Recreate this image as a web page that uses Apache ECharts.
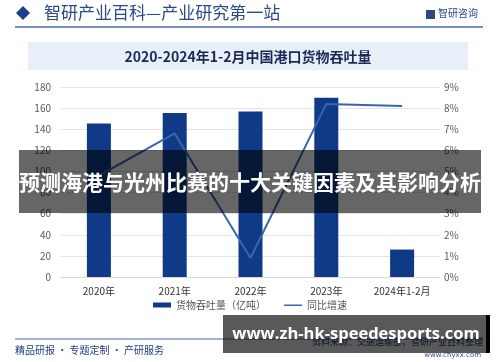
<!DOCTYPE html>
<html><head><meta charset="utf-8">
<script src="https://cdn.jsdelivr.net/npm/echarts@6/dist/echarts.min.js"></script>
<style>html,body{margin:0;padding:0;background:#fff}#c{width:500px;height:362px}</style>
</head><body><div id="c"></div>
<script>
var categories = ['2020年', '2021年', '2022年', '2023年', '2024年1-2月'];
var throughput = [145.5, 155.45, 156.85, 169.73, 26.0];
var growth = [4.8, 6.8, 0.9, 8.2, 8.1];
var leftTicks = {min: 0, max: 180, interval: 20};
var rightTicks = {min: 0, max: 9, interval: 1};

var chart = echarts.init(document.getElementById('c'), null, {renderer: 'canvas'});
var CJK = '"Noto Sans CJK SC", "Noto Sans", sans-serif';
var lineIcon = 'path://M0,0L0.01,0L0.01,0.01L0,0.01Z M0,2L20,2L20,3.6L0,3.6Z M19.99,4.99L20,4.99L20,5L19.99,5Z';
chart.setOption({
  animation: false,
  textStyle: {fontFamily: CJK},
  grid: {left: 61, right: 60, top: 87, bottom: 85},
  legend: {
    bottom: 47, left: 'center', itemGap: 18,
    textStyle: {fontSize: 10, color: '#555', fontFamily: CJK},
    data: [
      {name: '货物吞吐量（亿吨）', icon: 'rect', itemStyle: {color: '#0e3a87'}},
      {name: '同比增速', icon: lineIcon, itemStyle: {color: '#3a64b0'}}
    ],
    itemWidth: 18, itemHeight: 5
  },
  xAxis: {
    type: 'category', data: categories,
    axisTick: {show: false},
    axisLine: {lineStyle: {color: '#d9d9d9'}},
    axisLabel: {fontSize: 10, color: '#333', margin: 9}
  },
  yAxis: [
    {type: 'value', min: leftTicks.min, max: leftTicks.max, interval: leftTicks.interval,
     axisLabel: {fontSize: 10, color: '#595959', margin: 10},
     splitLine: {lineStyle: {color: '#e3e3e3'}}, axisLine: {show: false}},
    {type: 'value', min: rightTicks.min, max: rightTicks.max, interval: rightTicks.interval,
     axisLabel: {fontSize: 10, color: '#595959', formatter: '{value}%', margin: 4},
     splitLine: {show: false}, axisLine: {show: false}}
  ],
  series: [
    {name: '货物吞吐量（亿吨）', type: 'bar', data: throughput, barWidth: 24,
     itemStyle: {color: '#0e3a87'}},
    {name: '同比增速', type: 'line', yAxisIndex: 1, data: growth, symbol: 'none',
     lineStyle: {color: '#3a64b0', width: 2}, itemStyle: {color: '#3a64b0'}}
  ],
  graphic: [
    {type: 'polygon', shape: {points: [[16, 13], [23, 6], [30, 13], [23, 20]]}, style: {fill: '#1a3d8f'}},
    {type: 'text', left: 44, top: 4, style: {text: '智研产业百科—产业研究第一站', fill: '#2a4a8a', font: '17px "Noto Sans CJK SC"'}},
    {type: 'rect', shape: {x: 426, y: 10, width: 9, height: 9}, style: {fill: '#2a4a8a'}},
    {type: 'text', left: 438, top: 8, style: {text: '智研咨询', fill: '#2a4a8a', font: '10px "Noto Sans CJK SC"'}},
    {type: 'line', shape: {x1: 15, y1: 27, x2: 483, y2: 27}, style: {stroke: '#4a6aa8', lineWidth: 1.5}},
    {type: 'rect', shape: {x: 28, y: 42, width: 440, height: 28}, style: {fill: '#e8eff9'}},
    {type: 'text', x: 248, y: 57, style: {text: '2020-2024年1-2月中国港口货物吞吐量', fill: '#1b2a55', font: 'bold 14px "Noto Sans CJK SC"', textAlign: 'center', textVerticalAlign: 'middle'}},
    {type: 'line', shape: {x1: 15, y1: 339, x2: 483, y2: 339}, style: {stroke: '#4a6aa8', lineWidth: 1.2}},
    {type: 'text', left: 15, top: 345, style: {text: '精品研报 · 专题定制 · 产研服务', fill: '#1f3c7a', font: '10px "Noto Sans CJK SC"'}},
    {type: 'text', x: 483, y: 342, style: {text: '资料来源：交通运输部，智研产业百科整理', fill: '#1f3c7a', font: '9px "Noto Sans CJK SC"', textAlign: 'right', textVerticalAlign: 'middle'}},
    {type: 'text', x: 481, y: 355, style: {text: 'www.chyxx.com', fill: '#2a4a8a', font: '7px "DejaVu Sans"', textAlign: 'right', textVerticalAlign: 'middle'}},
    {type: 'rect', z: 100, shape: {x: 19, y: 150, width: 462, height: 63}, style: {fill: 'rgba(0,0,0,0.6)'}},
    {type: 'text', z: 101, x: 250, y: 182, style: {text: '预测海港与光州比赛的十大关键因素及其影响分析', fill: '#fff', font: 'bold 21px "Noto Sans CJK SC"', textAlign: 'center', textVerticalAlign: 'middle'}},
    {type: 'rect', z: 100, shape: {x: 223, y: 315, width: 263, height: 38}, style: {fill: 'rgba(0,0,0,0.65)'}},
    {type: 'rect', z: 100, shape: {x: 486, y: 315, width: 4, height: 38}, style: {fill: '#000'}},
    {type: 'text', z: 101, x: 356, y: 334, style: {text: 'www.zh-hk-speedesports.com', fill: '#fff', font: 'bold 16.5px "Open Sans"', textAlign: 'center', textVerticalAlign: 'middle'}}
  ]
});
</script></body></html>
